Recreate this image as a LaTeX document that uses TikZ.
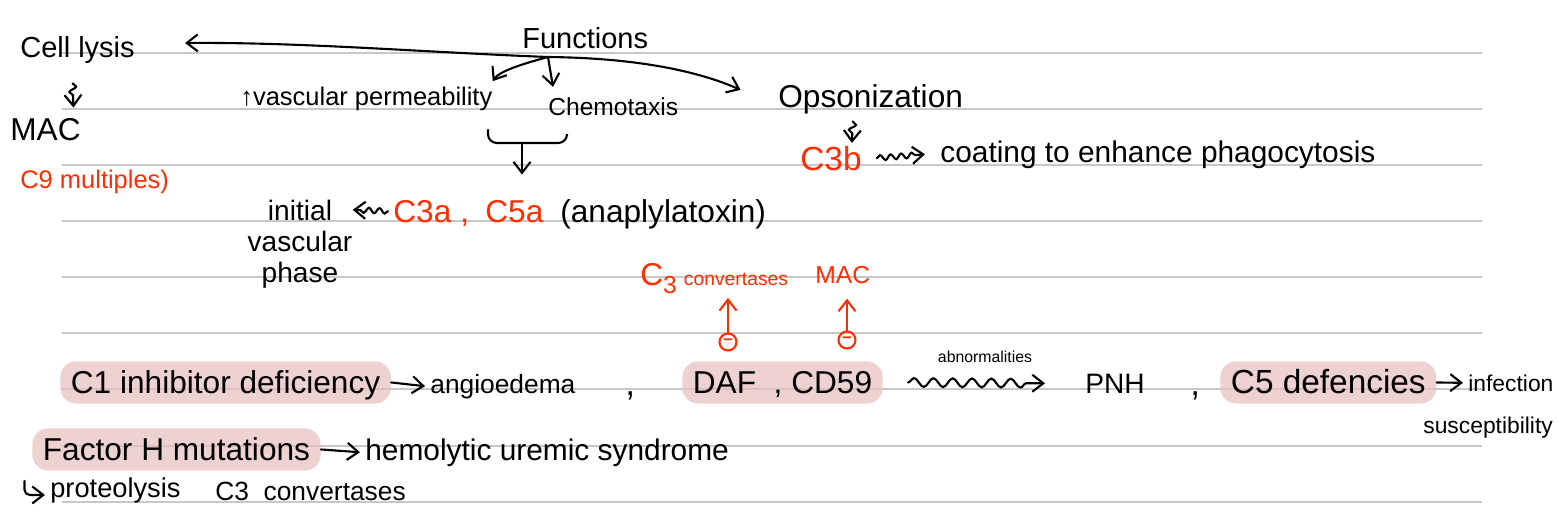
\documentclass[tikz,border=0pt]{standalone}
\usepackage{fontspec}
\setmainfont{Liberation Sans}
\usetikzlibrary{arrows.meta,decorations.pathmorphing}
\definecolor{inkred}{RGB}{255,45,0}
\definecolor{hlpink}{RGB}{232,190,190}
\definecolor{rulegray}{RGB}{200,200,200}

\begin{document}
\begin{tikzpicture}[
  x=0.02cm, y=-0.02cm,
  note/.style={font=\fontsize{#1}{#1}\selectfont, inner sep=0pt, anchor=base west},
  hl/.style={note=#1, fill=hlpink, fill opacity=0.7, text opacity=1, rounded corners=9pt, inner xsep=6pt, inner ysep=4pt, text height=14pt, text depth=2pt},
  arrow/.style={-{Straight Barb[length=2.2mm,width=3.4mm]}, line width=1.2pt, line cap=round},
  wavy/.style={arrow, decorate, decoration={snake, amplitude=2.5pt, segment length=11pt, post length=3mm}},
  minus/.style={circle, draw=inkred, line width=1.2pt, minimum size=0.34cm, inner sep=0pt, text=inkred, font=\bfseries}
]
\useasboundingbox (0,0) rectangle (1559,528);
\fill[white] (0,0) rectangle (1559,528);
% ruled paper
\foreach \y in {53,109,165,221,277,333,389,446,502}
  \draw[rulegray, line width=0.8pt] (62,\y) -- (1482,\y);

% top: functions
\node[note=16.5] (lysis) at (20,57) {Cell lysis};
\node[note=16.5] (fun) at (522,48) {Functions};
\node[note=14.5] (vasc) at (240,105) {↑vascular permeability};
\node[note=14] (chemo) at (548,115) {Chemotaxis};
\node[note=18] (opso) at (778,107) {Opsonization};
\node[note=18] (mac) at (10,140) {MAC};
\node[note=14.5, text=inkred] (cnine) at (20,188) {C9 multiples)};
\node[note=19, text=inkred] (cthreeb) at (800,170) {C3b};
\node[note=17] (coat) at (940,162) {coating to enhance phagocytosis};
\node[font=\fontsize{16}{17.5}\selectfont, align=center, inner sep=0pt] (init) at (300,244) {initial\\vascular\\phase};
\node[note=18, text=inkred] (cthreea) at (393,222) {C3a};
\node[note=18, text=inkred] (comma) at (460,222) {,};
\node[note=18, text=inkred] (cfivea) at (485,222) {C5a};
\node[note=18] (ana) at (560,222) {(anaplylatoxin)};
\node[note=18, text=inkred] (conv) at (640,285) {C\raisebox{-5pt}{\fontsize{14}{14}\selectfont 3}\hspace{4pt}{\fontsize{11}{11}\selectfont convertases}};
\node[note=14, text=inkred] (macred) at (815,283) {MAC};
\node[minus] (mone) at (728,342) {–};
\node[minus] (mtwo) at (847,340) {–};

% bottom: deficiencies
\node[hl=18] (def) at (60,393) {C1 inhibitor deficiency};
\node[note=15] (angio) at (430,393) {angioedema};
\node[note=20] (ca) at (625,395) {,};
\node[hl=18] (daf) at (682,393) {DAF\ \ ,\ CD59};
\node[note=9, anchor=base] (abn) at (985,362) {abnormalities};
\node[note=16] (pnh) at (1085,393) {PNH};
\node[note=20] (cb) at (1190,395) {,};
\node[hl=19] (cfive) at (1220,393) {C5 defencies};
\node[note=13] (infe) at (1468,391) {infection};
\node[note=13] (susc) at (1423,433) {susceptibility};
\node[hl=18] (fh) at (32,460) {Factor H mutations};
\node[note=17] (hus) at (365,460) {hemolytic uremic syndrome};
\node[note=15.5] (prot) at (50,497) {proteolysis};
\node[note=15] (convb) at (215,500) {C3\ \ convertases};

% connectors
\coordinate (root) at (548,57);
\draw[arrow] (root) .. controls (420,52) and (300,42) .. ([xshift=1cm,yshift=1.3mm]lysis.east);
\draw[arrow] (root) .. controls (640,58) and (700,72) .. ([xshift=-0.75cm,yshift=1.8mm]opso.west);
\draw[arrow] (root) .. controls (530,62) and (500,70) .. ([yshift=1mm]vasc.north east);
\draw[arrow] (root) -- ([xshift=1mm,yshift=2mm]chemo.north west);
\coordinate (bl) at (488,130);
\coordinate (br) at (567,135);
\coordinate (bm) at (522,143);
\draw[line width=1.2pt, line cap=round, rounded corners=5pt] (bl) |- (bm) -| (br);
\draw[arrow] (bm) -- ([yshift=5mm]bm |- cfivea.north);
\draw[wavy, decoration={snake, amplitude=1.5pt, segment length=6pt, post length=1.5mm}] ([xshift=-1mm]cthreea.west) -- ([yshift=-2mm]init.north east);
\draw[wavy, decoration={snake, amplitude=2pt, segment length=6pt, post length=1.5mm}] ([xshift=-1mm,yshift=-0.4cm]lysis.south) -- ([xshift=-1.5mm,yshift=2mm]mac.north east);
\draw[wavy, decoration={snake, amplitude=2pt, segment length=6pt, post length=1.5mm}] ([xshift=-0.36cm,yshift=-0.15cm]opso.south) -- ([xshift=-2mm,yshift=0.5mm]cthreeb.north east);
\draw[wavy, decoration={snake, amplitude=1.5pt, segment length=6pt, post length=1.5mm}] ([xshift=3mm]cthreeb.east) -- ([xshift=-3mm]coat.west);
\draw[arrow, inkred, shorten >=2pt] (mone) -- (mone |- conv.south);
\draw[arrow, inkred, shorten >=0.3cm] (mtwo) -- (mtwo |- macred.south);
\draw[arrow] (def.east) -- ([xshift=-1mm]angio.west);
\draw[wavy] ([xshift=0.5cm]daf.east) -- ([xshift=-0.8cm]pnh.west);
\draw[arrow] (cfive.east) -- ([xshift=-1mm]infe.west);
\draw[arrow] (fh.east) -- ([xshift=-1mm]hus.west);
\draw[arrow, rounded corners=3pt] ([xshift=-1.5mm,yshift=-2mm]fh.south west) |- ([xshift=-1mm,yshift=-1mm]prot.west);
\end{tikzpicture}
\end{document}
